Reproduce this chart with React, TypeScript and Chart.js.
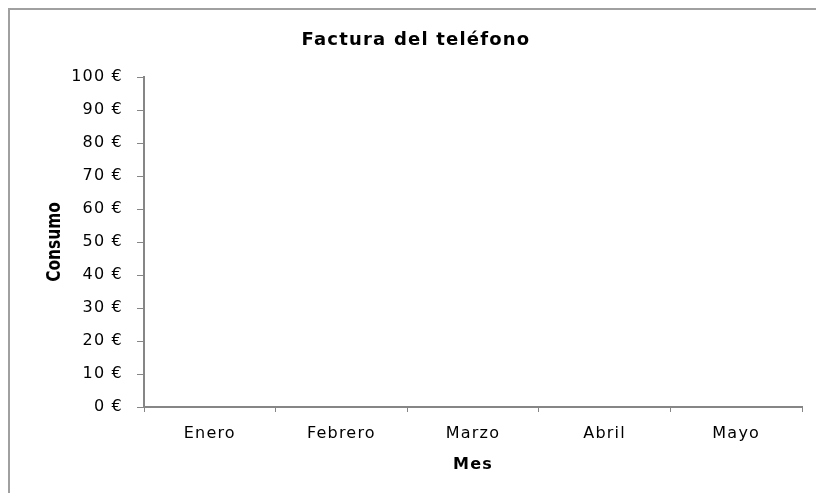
import React, { useEffect, useRef } from 'react';
import { Chart, registerables } from 'chart.js';

Chart.register(...registerables);

// ---- data ----
const months: string[] = ['Enero', 'Febrero', 'Marzo', 'Abril', 'Mayo'];
const consumo: (number | null)[] = [null, null, null, null, null];
const yMin = 0;
const yMax = 100;
const yStep = 10;
const currency = '€';
const chartTitle = 'Factura del teléfono';
const xTitle = 'Mes';
const yTitle = 'Consumo';

const FONT = "'DejaVu Sans', sans-serif";
const AXIS = '#868686';
const FRAME = '#a0a0a0';

export default function App() {
  const ref = useRef<HTMLCanvasElement>(null);

  useEffect(() => {
    if (!ref.current) return;

    const framePlugin = {
      id: 'frame',
      beforeDraw(chart: any) {
        const ctx = chart.ctx;
        ctx.save();
        ctx.fillStyle = '#fff';
        ctx.fillRect(0, 0, chart.width, chart.height);
        ctx.strokeStyle = FRAME;
        ctx.lineWidth = 2;
        ctx.beginPath();
        ctx.moveTo(9, chart.height);
        ctx.lineTo(9, 9);
        ctx.lineTo(chart.width, 9);
        ctx.stroke();
        ctx.restore();
        ctx.letterSpacing = '1.2px';
      },
    };

    const yTitlePlugin = {
      id: 'yTitleCondensed',
      afterDraw(chart: any) {
        const ctx = chart.ctx;
        const area = chart.chartArea;
        ctx.save();
        ctx.letterSpacing = '0px';
        ctx.translate(54.5, (area.top + area.bottom) / 2);
        ctx.rotate(-Math.PI / 2);
        ctx.scale(0.77, 1);
        ctx.font = `bold 20px ${FONT}`;
        ctx.fillStyle = '#000';
        ctx.textAlign = 'center';
        ctx.textBaseline = 'middle';
        ctx.fillText(yTitle, 0, 0);
        ctx.restore();
      },
    };

    const chart = new Chart(ref.current, {
      type: 'bar',
      data: {
        labels: months,
        datasets: [
          {
            label: yTitle,
            data: consumo,
            backgroundColor: '#4f81bd',
          },
        ],
      },
      options: {
        animation: false,
        responsive: false,
        devicePixelRatio: 1,
        layout: { padding: { left: 30, right: 14, top: 0, bottom: 0 } },
        plugins: {
          legend: { display: false },
          tooltip: { enabled: false },
          title: {
            display: true,
            text: chartTitle,
            color: '#000',
            font: { family: FONT, size: 18, weight: 'bold' },
            padding: { top: 29.7, bottom: 25.7 },
          },
        },
        scales: {
          x: {
            type: 'category',
            offset: true,
            grid: {
              offset: true,
              drawOnChartArea: false,
              drawTicks: true,
              tickLength: 5,
              color: AXIS,
              lineWidth: 1,
            },
            border: { display: true, color: AXIS, width: 2 },
            ticks: {
              padding: 12.4,
              color: '#000',
              font: { family: FONT, size: 16 },
              maxRotation: 0,
              autoSkip: false,
            },
            title: {
              display: true,
              text: xTitle,
              color: '#000',
              font: { family: FONT, size: 16, weight: 'bold' },
              padding: { top: 0, bottom: 18.4 },
            },
            afterFit(scale: any) {
              scale.height = 86;
            },
          },
          y: {
            min: yMin,
            max: yMax,
            grid: {
              drawOnChartArea: false,
              drawTicks: true,
              tickLength: 7,
              color: AXIS,
              lineWidth: 1,
            },
            border: { display: true, color: AXIS, width: 2 },
            ticks: {
              stepSize: yStep,
              padding: 14,
              color: '#000',
              font: { family: FONT, size: 16 },
              callback: (v: any) => `${v} ${currency}`,
            },
            afterFit(scale: any) {
              scale.width = 114;
            },
          },
        },
      } as any,
      plugins: [framePlugin, yTitlePlugin],
    });

    return () => chart.destroy();
  }, []);

  return (
    <div style={{ position: 'fixed', left: 0, top: 0, width: 816, height: 493, overflow: 'hidden' }}>
      <canvas ref={ref} width={816} height={493} style={{ display: 'block' }} />
    </div>
  );
}
